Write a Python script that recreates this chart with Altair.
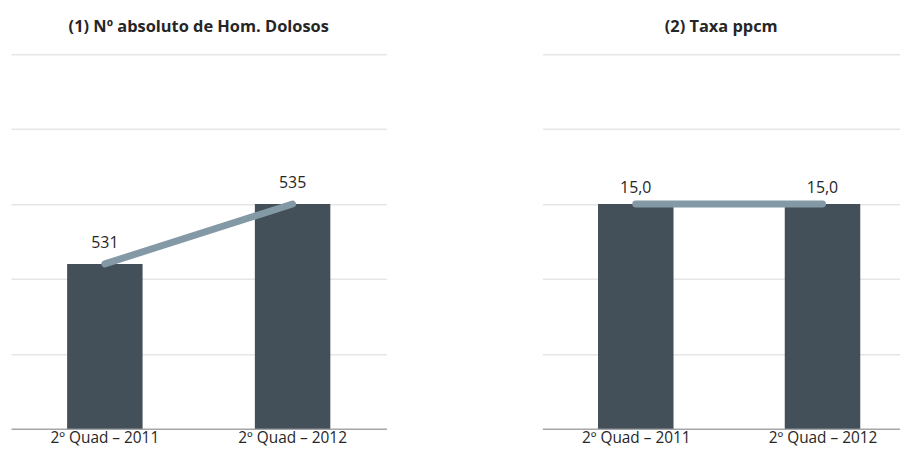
import altair as alt
import pandas as pd

categories = ["2º Quad – 2011", "2º Quad – 2012"]
absolutos = [531, 535]
absolutos_txt = ["531", "535"]
taxa = [15.0, 15.0]
taxa_txt = ["15,0", "15,0"]

BAR = "#434F59"
LINE = "#8499A6"
FONT = "Open Sans"
TXT = "#262626"

df1 = pd.DataFrame({"cat": categories, "v": absolutos, "t": absolutos_txt})
df2 = pd.DataFrame({"cat": categories, "idx": list(range(len(categories))),
                    "v": taxa, "t": taxa_txt})

label_expr = " : ".join(
    [f"datum.value == {i} ? '{c}'" for i, c in enumerate(categories[:-1])] + [f"'{categories[-1]}'"])

xaxis = dict(labelAngle=0, ticks=False, domain=False, labelFont=FONT, labelFontSize=15.5,
             labelColor=TXT, labelPadding=2, grid=False)


def yaxis(domain, ticks):
    return alt.Axis(values=ticks, labels=False, ticks=False, domain=False, grid=True,
                    gridColor={"condition": {"test": f"datum.value == {domain[0]}",
                                             "value": "#A6A6A6"},
                               "value": "#E6E6E6"},
                    gridWidth=1.5)


def title(t):
    return alt.TitleParams(t, font=FONT, fontSize=16.5, fontWeight="bold", color=TXT,
                           anchor="middle", offset=19)


# Panel 1
xs1 = alt.Scale(paddingInner=0.598, paddingOuter=0.299)
ys1 = alt.Scale(domain=[520, 545], zero=False, nice=False)
x1 = alt.X("cat:N", sort=categories, scale=xs1, title=None, axis=alt.Axis(**xaxis))
y1 = alt.Y("v:Q", scale=ys1, title=None, axis=yaxis([520, 545], [520, 525, 530, 535, 540, 545]))
base1 = alt.Chart(df1)
left = alt.layer(
    base1.mark_bar(color=BAR).encode(x=x1, y=y1, y2=alt.datum(520)),
    base1.mark_line(color=LINE, strokeWidth=7, strokeCap="round").encode(x=x1, y=y1),
    base1.mark_text(font=FONT, fontSize=16, color=TXT, dy=-21).encode(x=x1, y=y1, text="t:N"),
).properties(width=378, height=377, title=title("(1) Nº absoluto de Hom. Dolosos"))

# Panel 2
xs2 = alt.Scale(domain=[-0.5, 1.415], zero=False, nice=False, padding=0)
ys2 = alt.Scale(domain=[0, 25], nice=False)
x2 = alt.X("idx:Q", scale=xs2, title=None,
           axis=alt.Axis(values=[0, 1], labelExpr=label_expr, **xaxis))
y2 = alt.Y("v:Q", scale=ys2, title=None, axis=yaxis([0, 25], [0, 5, 10, 15, 20, 25]))
base2 = alt.Chart(df2)
right = alt.layer(
    base2.mark_bar(color=BAR, width=76).encode(x=x2, y=y2, y2=alt.datum(0)),
    base2.mark_line(color=LINE, strokeWidth=7, strokeCap="round").encode(x=x2, y=y2),
    base2.mark_text(font=FONT, fontSize=16, color=TXT, dy=-16).encode(x=x2, y=y2, text="t:N"),
).properties(width=360, height=377, title=title("(2) Taxa ppcm"))

chart = alt.hconcat(left, right, spacing=157).properties(
    padding={"left": 3, "top": 9, "right": 0, "bottom": 0}
).configure(background="white").configure_view(strokeWidth=0)

chart.save("out.html", embed_options={"renderer": "svg", "actions": False})
